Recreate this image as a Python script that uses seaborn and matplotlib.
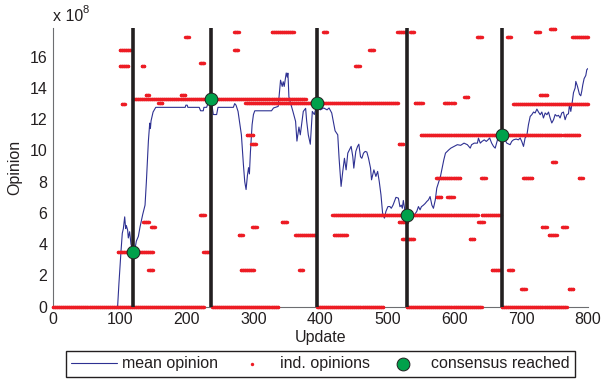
import numpy as np
import pandas as pd
import matplotlib
matplotlib.use("Agg")
import matplotlib.pyplot as plt
from matplotlib.ticker import FuncFormatter
import seaborn as sns

SCALE = 1e8

# ---- mean opinion (update, value in 1e8) ----
mean_update = [0, 97, 99, 102, 104, 105.6, 107.6, 109, 110, 112, 113, 115, 117, 120, 123, 125, 128,
               130.5, 134.5, 138, 140, 143, 145, 146, 147, 150, 154, 198, 199, 201, 202, 219, 221,
               225, 226, 230, 232, 236, 238, 240, 245, 247, 270, 272, 274, 277, 282, 285, 287, 289,
               291, 292.7, 294, 295.5, 298, 300, 302, 327, 330, 337, 339, 340.5, 343, 344.5, 346,
               349, 350.5, 351.5, 352, 353, 355, 359, 363, 365, 368, 370, 374.5, 378, 379.5, 382,
               385, 388, 391, 395, 400, 405, 410, 413, 417, 422, 426, 428, 431, 433.5, 436, 438.5,
               441, 443.5, 446, 448.5, 450, 453, 455.6, 457.5, 460, 462, 464.5, 467, 469.5, 472,
               475, 476.5, 480, 483, 485.6, 488, 490.6, 493, 495.7, 498, 501, 504, 506, 508.6, 513,
               516.6, 519, 521, 522.5, 524, 526.6, 529, 534, 539, 544, 546.6, 549, 551, 554, 556.5,
               559, 561.6, 564, 566.7, 569, 571.8, 574, 577, 579.5, 582, 584.5, 587, 589.5, 592,
               595, 599.7, 604.7, 609.7, 614.7, 619.7, 624, 626, 630, 634.7, 636.3, 639, 641.6,
               645, 648, 650.5, 653, 656, 658.8, 661.3, 664.7, 668, 671.6, 676, 678.6, 683.6, 686,
               688.6, 692.5, 696, 698.6, 701, 703.6, 706, 708.6, 711, 713.6, 716, 718.6, 721, 723.6,
               726, 728.6, 731, 733.4, 736, 738.6, 741, 743.4, 745.9, 748.5, 750.9, 753.4, 755.9,
               758.3, 760.8, 763.3, 765.8, 768.3, 770.8, 772.3, 774.3, 776.8, 778.3, 780.8, 781.8,
               784.3, 787.2, 789.2, 790.7, 792.2, 794.2, 796.7, 798.2, 800]
mean_value = [0, 0, 1.5, 3.5, 4.7, 5.0, 5.75, 5.0, 5.2, 4.9, 4.4, 4.8, 4.0, 3.55, 3.7, 4.2, 4.5,
              5.1, 5.9, 6.5, 8.0, 10.6, 11.75, 11.4, 11.9, 12.46, 12.76, 12.76, 12.9, 12.9, 12.76,
              12.76, 12.54, 12.54, 12.76, 12.76, 13.0, 13.2, 12.9, 12.3, 12.3, 12.76, 12.76, 13.0,
              12.9, 12.5, 11.0, 9.1, 8.0, 7.5, 8.4, 8.9, 8.5, 9.9, 11.65, 12.3, 12.54, 12.54, 12.72,
              12.82, 13.78, 14.5, 14.1, 14.4, 14.1, 14.96, 14.7, 14.95, 14.5, 13.44, 13.1, 12.5,
              11.86, 10.6, 11.5, 11.0, 12.5, 12.7, 11.9, 11.0, 10.4, 12.5, 12.3, 13.0, 12.6, 12.72,
              12.6, 12.72, 12.4, 11.26, 11.0, 9.5, 7.7, 8.66, 9.5, 8.76, 9.83, 10.04, 10.26, 9.6,
              8.87, 9.94, 10.26, 10.4, 9.6, 9.5, 9.83, 9.94, 9.9, 9.5, 8.87, 8.12, 8.76, 8.34, 8.66,
              8.02, 7.16, 6.0, 5.67, 6.1, 6.41, 6.41, 6.3, 6.5, 7.0, 6.95, 6.4, 6.5, 6.3, 6.8, 6.1,
              5.9, 5.88, 5.8, 6.09, 6.41, 6.2, 6.4, 6.5, 6.6, 6.73, 6.84, 7.05, 6.5, 6.3, 6.84,
              7.59, 8.0, 8.34, 8.87, 9.4, 9.83, 9.94, 10.04, 10.15, 10.26, 10.37, 10.33, 10.47,
              10.37, 10.15, 10.37, 10.47, 10.47, 10.79, 10.47, 10.58, 10.68, 10.58, 10.68, 10.8,
              10.47, 10.26, 10.15, 10.68, 10.9, 10.96, 10.68, 10.47, 10.37, 10.58, 10.68, 10.73,
              10.68, 10.8, 10.58, 10.26, 10.8, 10.96, 11.65, 12.18, 12.29, 12.46, 12.4, 12.65,
              12.46, 12.29, 12.46, 12.08, 12.4, 12.29, 12.46, 12.08, 11.76, 11.97, 12.3, 12.2,
              12.25, 12.08, 12.4, 12.46, 11.97, 12.29, 12.35, 12.93, 12.5, 13.2, 13.7, 14.0, 14.42,
              14.1, 13.6, 13.5, 13.8, 14.2, 14.6, 14.8, 15.17, 15.25]

# ---- individual opinions: constant-opinion segments (start update, end update, value in 1e8) ----
seg_start = [0, 238, 395, 529, 671,
             100, 100, 133, 103, 139, 191, 158, 198, 220, 271, 271,
             97, 225, 135, 147, 143, 220, 278, 281, 298, 290, 297,
             120, 288, 541,
             327, 404, 515, 534, 473, 452, 517,
             342, 362, 420, 418, 641, 517, 522, 368,
             574, 590, 636, 623, 656, 681, 700, 771, 731, 741, 761,
             634, 679, 721, 743, 776, 615, 585, 595, 688, 728, 550, 763, 746, 573, 640, 703, 786]
seg_end = [226, 337, 494, 641, 768,
           116, 113, 137, 108, 144, 198, 164, 203, 226, 278, 277,
           150, 234, 144, 153, 150, 227, 284, 301, 305, 300, 304,
           378, 516, 553,
           360, 410, 528, 540, 480, 459, 524,
           350, 392, 440, 635, 670, 529, 540, 374,
           581, 599, 644, 630, 669, 688, 707, 778, 738, 753, 768,
           641, 685, 728, 751, 800, 621, 593, 601, 800, 739, 760, 787, 752, 609, 647, 717, 792]
seg_value = [0, 0, 0, 0, 0,
             16.4, 15.4, 15.4, 13.0, 13.55, 13.55, 13.04, 17.27, 15.58, 17.56, 16.43,
             3.52, 3.52, 5.41, 5.09, 2.33, 5.88, 4.6, 2.35, 5.09, 10.96, 10.43,
             13.3, 13.04, 13.04,
             17.58, 17.58, 17.56, 17.56, 16.45, 15.42, 10.43,
             5.41, 4.6, 4.6, 5.88, 5.88, 5.41, 4.32, 2.33,
             7.05, 7.05, 5.41, 4.32, 2.35, 2.35, 1.11, 1.11, 5.09, 4.6, 5.09,
             17.27, 17.27, 17.58, 17.8, 17.27, 13.4, 13.06, 13.06, 13.0, 13.55, 10.96, 10.96,
             9.24, 8.22, 8.22, 8.22, 8.22]

# ---- consensus events ----
consensus_update = [120, 236, 395, 529, 671]
consensus_value = [3.52, 13.3, 13.04, 5.88, 10.96]

x_ticks = [0, 100, 200, 300, 400, 500, 600, 700, 800]
y_ticks = [0, 2, 4, 6, 8, 10, 12, 14, 16]

RED = "#ed1c24"
BLUE = "#2e3192"
GREEN = "#00a14b"
INK = "#231f20"
AXIS = "#6d6e71"

sns.set_style("white")
plt.rcParams["font.family"] = ["Liberation Sans", "DejaVu Sans"]
FS = 11.5

df_mean = pd.DataFrame({"update": mean_update, "opinion": np.array(mean_value) * SCALE})
px, py = [], []
for s, e, v in zip(seg_start, seg_end, seg_value):
    xs = np.arange(s, e + 1)
    px.extend(xs)
    py.extend([v * SCALE] * len(xs))
df_ind = pd.DataFrame({"update": px, "opinion": py})
df_cons = pd.DataFrame({"update": consensus_update,
                        "opinion": np.array(consensus_value) * SCALE})

fig = plt.figure(figsize=(6.01, 3.79), dpi=100)
ax = fig.add_axes([52.7 / 601, 72.3 / 379, 535.3 / 601, 278.4 / 379])

sns.lineplot(data=df_mean, x="update", y="opinion", ax=ax, color=BLUE, linewidth=0.8,
             label="mean opinion", zorder=2, estimator=None, sort=False)
sns.scatterplot(data=df_ind, x="update", y="opinion", ax=ax, color=RED, s=6,
                linewidth=0, marker="o", label="ind. opinions", zorder=3, clip_on=False)
for xv in consensus_update:
    ax.axvline(xv, color=INK, linewidth=2.6, zorder=4)
sns.scatterplot(data=df_cons, x="update", y="opinion", ax=ax, color=GREEN, s=85,
                edgecolor=INK, linewidth=0.7, label="consensus reached", zorder=5)

ax.set_xlim(0, 800)
ax.set_ylim(0, 17.82 * SCALE)
ax.set_xticks(x_ticks)
ax.set_yticks([v * SCALE for v in y_ticks])
ax.yaxis.set_major_formatter(FuncFormatter(lambda v, p: f"{v / SCALE:.0f}"))
ax.tick_params(direction="in", length=3.5, width=0.8, color=AXIS, labelcolor=INK,
               labelsize=FS, pad=4)
for side in ["top", "right"]:
    ax.spines[side].set_visible(False)
for side in ["left", "bottom"]:
    ax.spines[side].set_color(AXIS)
    ax.spines[side].set_linewidth(0.8)

ax.set_xlabel("Update", fontsize=FS, color=INK)
ax.set_ylabel("Opinion", fontsize=FS, color=INK)
ax.xaxis.set_label_coords(0.5, -0.084)
ax.yaxis.set_label_coords(-0.057, 0.5)

fig.text(52.7 / 601, 1 - 20.7 / 379, "x 10", fontsize=FS, color=INK, ha="left", va="baseline")
fig.text(82.7 / 601, 1 - 12.8 / 379, "8", fontsize=8, color=INK, ha="left", va="baseline")

handles, labels = ax.get_legend_handles_labels()
order = [labels.index(l) for l in ["mean opinion", "ind. opinions", "consensus reached"]]
ax.get_legend().remove()
leg = fig.legend([handles[i] for i in order], [labels[i] for i in order],
                 loc="lower center", bbox_to_anchor=(320.5 / 601, 2.3 / 379), ncol=3,
                 fontsize=FS, frameon=True, fancybox=False, framealpha=1,
                 edgecolor=INK, handlelength=2.9, handletextpad=0.3, columnspacing=0.65,
                 borderpad=0.35, borderaxespad=0)
leg.get_frame().set_linewidth(1.0)
for t in leg.get_texts():
    t.set_color(INK)

fig.savefig("out.png", dpi=100)
